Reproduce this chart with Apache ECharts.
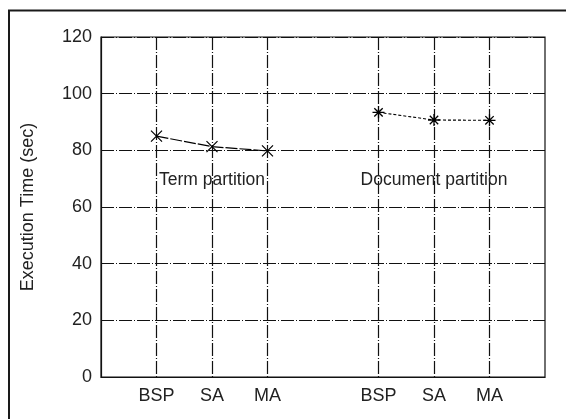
<!DOCTYPE html>
<html>
<head>
<meta charset="utf-8">
<script src="https://cdn.jsdelivr.net/npm/echarts@6/dist/echarts.min.js"></script>
<style>
html,body{margin:0;padding:0;background:#fff;}
#chart{width:566px;height:419px;}
</style>
</head>
<body>
<div id="chart"></div>
<script>
// Categories (empty entries are spacer slots)
var categories = ['', 'BSP', 'SA', 'MA', '', 'BSP', 'SA', 'MA', ''];
// Series values
var termPartition = [null, 85.0, 81.3, 79.8, null, null, null, null, null];
var documentPartition = [null, null, null, null, null, 93.4, 90.7, 90.6, null];
// Y-axis ticks
var yMin = 0, yMax = 120, yStep = 20;
var yAxisName = 'Execution Time (sec)';
var seriesNames = ['Term partition', 'Document partition'];

var chart = echarts.init(document.getElementById('chart'), null, {renderer: 'canvas'});
var font = 'Liberation Sans, Arial, Helvetica, sans-serif';
var gridDash = [13, 2, 1, 2];
var option = {
  animation: false,
  backgroundColor: '#fff',
  grid: {left: 101, right: 21, top: 37, bottom: 42, show: true, borderColor: '#111', borderWidth: 1.2, backgroundColor: 'transparent'},
  xAxis: {
    type: 'category',
    data: categories,
    boundaryGap: false,
    axisLine: {show: true, lineStyle: {color: '#111', width: 1.2}},
    axisTick: {show: false},
    axisLabel: {interval: 0, fontSize: 18, fontFamily: font, color: '#222', margin: 10},
    splitLine: {show: true, interval: function (idx, val) { return val !== ''; },
      lineStyle: {color: '#111', width: 1.2, type: gridDash}}
  },
  yAxis: {
    type: 'value',
    min: yMin, max: yMax, interval: yStep,
    name: yAxisName,
    nameLocation: 'middle',
    nameGap: 64,
    nameRotate: 90,
    nameTextStyle: {fontSize: 18, fontFamily: font, color: '#222'},
    axisLine: {show: true, lineStyle: {color: '#111', width: 1.2}},
    axisTick: {show: false},
    axisLabel: {fontSize: 18, fontFamily: font, color: '#222', margin: 9},
    splitLine: {show: true, lineStyle: {color: '#111', width: 1.2, type: gridDash}}
  },
  series: [
    {
      name: seriesNames[0], type: 'line', data: termPartition,
      symbol: 'path://M0,0L10,10M10,0L0,10', symbolSize: 11,
      lineStyle: {color: '#000', width: 1.2, type: [12, 2]},
      itemStyle: {color: '#000', borderColor: '#000', borderWidth: 1.2}
    },
    {
      name: seriesNames[1], type: 'line', data: documentPartition,
      symbol: 'path://M5,0L5,10M0,5L10,5M1.5,1.5L8.5,8.5M8.5,1.5L1.5,8.5', symbolSize: 12,
      lineStyle: {color: '#000', width: 1.1, type: [3, 2]},
      itemStyle: {color: '#000', borderColor: '#000', borderWidth: 1.3}
    }
  ]
};
chart.setOption(option);

// Series labels placed in data space
var p1 = chart.convertToPixel({gridIndex: 0}, [2, 69.5]);
var p2 = chart.convertToPixel({gridIndex: 0}, [5.88, 69.5]);
var labelFont = '17.5px ' + font;
chart.setOption({graphic: [
  {type: 'line', shape: {x1: 9, y1: 10, x2: 9, y2: 419}, style: {stroke: '#1a1a1a', lineWidth: 2}},
  {type: 'line', shape: {x1: 8, y1: 10.5, x2: 566, y2: 10.5}, style: {stroke: '#1a1a1a', lineWidth: 2}},
  {type: 'text', x: p1[0], y: p1[1], style: {text: seriesNames[0], font: labelFont, fill: '#222', align: 'center', verticalAlign: 'middle'}},
  {type: 'text', x: p2[0], y: p2[1], style: {text: seriesNames[1], font: labelFont, fill: '#222', align: 'center', verticalAlign: 'middle'}}
]});
</script>
</body>
</html>
